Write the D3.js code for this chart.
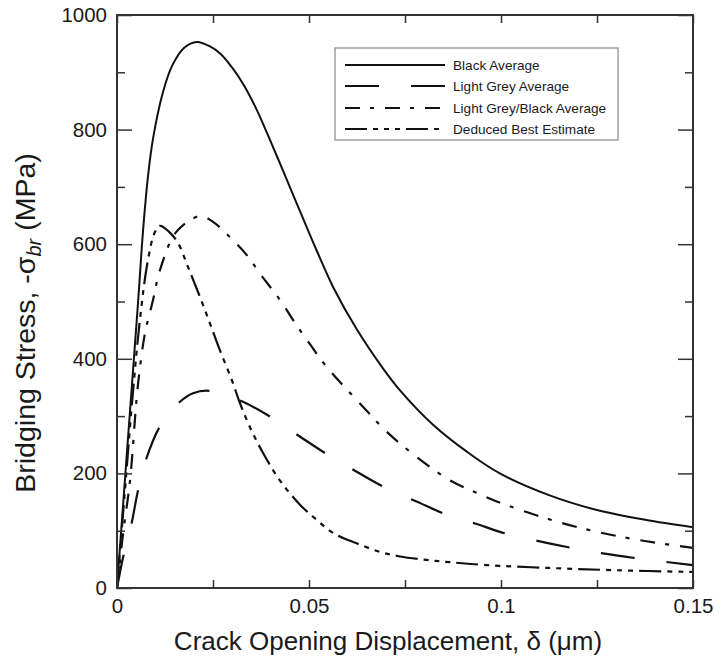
<!DOCTYPE html>
<html>
<head>
<meta charset="utf-8">
<script src="https://cdn.jsdelivr.net/npm/d3@7"></script>
<style>
  html, body { margin: 0; padding: 0; background: #fff; }
  svg text { font-family: "Liberation Sans", Arial, Helvetica, sans-serif; fill: #1a1a1a; }
</style>
</head>
<body>
<svg id="chart" width="715" height="659"></svg>
<script>
// Crack opening displacement (µm) and bridging stress (MPa) for each series
const blackDelta = [0, 0.0018, 0.0036, 0.0055, 0.0068, 0.0081, 0.0094, 0.012, 0.0144, 0.0175, 0.0208, 0.024, 0.027, 0.03, 0.033, 0.036, 0.039, 0.042, 0.045, 0.0477, 0.052, 0.0563, 0.0624, 0.0693, 0.0737, 0.0823, 0.0911, 0.0997, 0.1125, 0.125, 0.1375, 0.15];
const blackStress = [0, 165, 328, 500, 625, 720, 785, 866, 912, 943, 953, 946, 932, 908, 878, 840, 795, 748, 700, 657, 589, 525, 452, 383, 345, 285, 238, 200, 162, 136, 119, 106];

const greyDelta = [0, 0.0016, 0.0038, 0.0055, 0.0077, 0.0112, 0.0164, 0.0198, 0.0242, 0.0328, 0.0406, 0.0477, 0.055, 0.0624, 0.0702, 0.078, 0.0862, 0.0945, 0.0997, 0.1125, 0.125, 0.1375, 0.15];
const greyStress = [0, 54, 113, 171, 227, 282, 325, 340, 344, 325, 296, 264, 232, 203, 174, 151, 127, 110, 98, 78, 62, 50, 40];

const mixDelta = [0, 0.0016, 0.0034, 0.0051, 0.006, 0.0073, 0.0094, 0.0112, 0.0155, 0.0216, 0.025, 0.0302, 0.0338, 0.0372, 0.0424, 0.0468, 0.0503, 0.0546, 0.0641, 0.0702, 0.078, 0.0867, 0.0937, 0.0989, 0.1125, 0.125, 0.1375, 0.15];
const mixStress = [0, 96, 188, 330, 386, 445, 503, 555, 622, 649, 639, 607, 581, 549, 503, 458, 425, 386, 316, 273, 229, 188, 166, 151, 120, 98, 82, 70];

const bestDelta = [0, 0.002, 0.004, 0.006, 0.008, 0.0098, 0.0112, 0.0135, 0.0159, 0.0185, 0.0216, 0.0242, 0.0268, 0.0299, 0.032, 0.0346, 0.038, 0.0424, 0.0477, 0.052, 0.0563, 0.0624, 0.0685, 0.0737, 0.0806, 0.0867, 0.0963, 0.1125, 0.13, 0.15];
const bestStress = [0, 165, 330, 470, 570, 620, 632, 622, 602, 560, 508, 462, 415, 363, 323, 281, 236, 188, 145, 119, 96, 78, 63, 55, 49, 45, 40, 35, 31, 28];

const seriesNames = ["Black Average", "Light Grey Average", "Light Grey/Black Average", "Deduced Best Estimate"];
const xTickLabels = [0, 0.05, 0.1, 0.15];
const yTickLabels = [0, 200, 400, 600, 800, 1000];

const svg = d3.select("#chart");
const frame = { left: 117, right: 693, top: 15, bottom: 588 };

const x = d3.scaleLinear().domain([0, 0.15]).range([frame.left, frame.right]);
const y = d3.scaleLinear().domain([0, 1000]).range([frame.bottom, frame.top]);

const series = [
  { name: seriesNames[0], delta: blackDelta, stress: blackStress, dash: null, width: 2 },
  { name: seriesNames[1], delta: greyDelta, stress: greyStress, dash: "34,32", width: 2.2 },
  { name: seriesNames[2], delta: mixDelta, stress: mixStress, dash: "15,10,4,11", width: 2.2 },
  { name: seriesNames[3], delta: bestDelta, stress: bestStress, dash: "22,6,5,6,5,6,5,6", width: 2.2 }
];

// Curves
const line = d3.line()
  .x(d => x(d[0]))
  .y(d => y(d[1]))
  .curve(d3.curveCatmullRom.alpha(0.5));

const plot = svg.append("g");
plot.append("defs").append("clipPath").attr("id", "clip")
  .append("rect").attr("x", frame.left).attr("y", frame.top)
  .attr("width", frame.right - frame.left).attr("height", frame.bottom - frame.top);

series.forEach(s => {
  plot.append("path")
    .attr("clip-path", "url(#clip)")
    .attr("d", line(s.delta.map((d, i) => [d, s.stress[i]])))
    .attr("fill", "none")
    .attr("stroke", "#111")
    .attr("stroke-width", s.width)
    .attr("stroke-dasharray", s.dash);
});

// Axes: inward ticks on all four sides, minor ticks between labels
const xMinor = d3.range(0, 0.1501, 0.025);
const yMinor = d3.range(0, 1001, 100);
const fmtX = d => (d === 0 ? "0" : String(+d.toFixed(3)));

function styleAxis(g) {
  g.select(".domain").remove();
  g.selectAll(".tick line").attr("stroke", "#333").attr("stroke-width", 1.5);
  g.selectAll(".tick text").attr("font-size", 20.5).attr("fill", "#1a1a1a")
    .attr("font-family", '"Liberation Sans", Arial, sans-serif');
}

const isMajorX = d => xTickLabels.some(v => Math.abs(v - d) < 1e-9);
const isMajorY = d => yTickLabels.includes(d);

const gxB = svg.append("g").attr("transform", `translate(0,${frame.bottom})`)
  .call(d3.axisBottom(x).tickValues(xMinor).tickSize(-8).tickPadding(10)
    .tickFormat(d => isMajorX(d) ? fmtX(d) : ""));
styleAxis(gxB);

const gxT = svg.append("g").attr("transform", `translate(0,${frame.top})`)
  .call(d3.axisTop(x).tickValues(xMinor).tickSize(-8).tickFormat(""));
styleAxis(gxT);

const gyL = svg.append("g").attr("transform", `translate(${frame.left},0)`)
  .call(d3.axisLeft(y).tickValues(yMinor).tickSize(-8).tickPadding(10)
    .tickFormat(d => isMajorY(d) ? d : ""));
styleAxis(gyL);
gyL.selectAll(".tick line").attr("x2", d => isMajorY(d) ? 15 : 8);

const gyR = svg.append("g").attr("transform", `translate(${frame.right},0)`)
  .call(d3.axisRight(y).tickValues(yMinor).tickSize(-8).tickFormat(""));
styleAxis(gyR);
gyR.selectAll(".tick line").attr("x2", d => isMajorY(d) ? -15 : -8);

// Frame
svg.append("rect")
  .attr("x", frame.left).attr("y", frame.top)
  .attr("width", frame.right - frame.left).attr("height", frame.bottom - frame.top)
  .attr("fill", "none").attr("stroke", "#333").attr("stroke-width", 2);

// Axis titles
svg.append("text")
  .attr("x", 388).attr("y", 650)
  .attr("text-anchor", "middle")
  .attr("font-size", 26)
  .text("Crack Opening Displacement, δ (μm)");

const yTitle = svg.append("text")
  .attr("transform", "translate(35,323) rotate(-90)")
  .attr("text-anchor", "middle")
  .attr("font-size", 28.5);
yTitle.append("tspan").text("Bridging Stress, -σ");
yTitle.append("tspan").attr("font-size", 20).attr("font-style", "italic").attr("dy", 6).text("br");
yTitle.append("tspan").attr("dy", -6).text(" (MPa)");

// Legend
const lg = svg.append("g");
lg.append("rect")
  .attr("x", 335).attr("y", 48).attr("width", 283).attr("height", 92)
  .attr("fill", "#fff").attr("stroke", "#888").attr("stroke-width", 1.2);
const rowY = [65, 86, 108, 129];
series.forEach((s, i) => {
  lg.append("line")
    .attr("x1", 345).attr("x2", 445)
    .attr("y1", rowY[i]).attr("y2", rowY[i])
    .attr("stroke", "#111").attr("stroke-width", s.width)
    .attr("stroke-dasharray", s.dash);
  lg.append("text")
    .attr("x", 453).attr("y", rowY[i] + 4.8)
    .attr("font-size", 13.6)
    .text(s.name);
});
</script>
</body>
</html>
